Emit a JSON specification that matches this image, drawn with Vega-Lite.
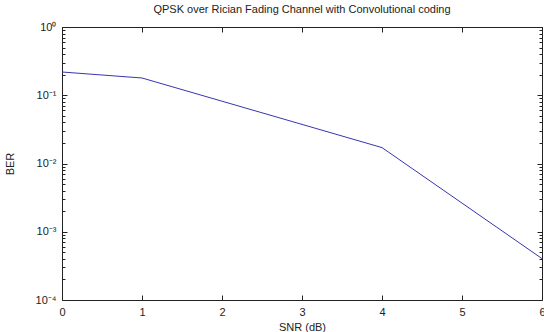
{
  "$schema": "https://vega.github.io/schema/vega-lite/v6.json",
  "autosize": "none",
  "width": 480,
  "height": 273,
  "padding": {"left": 62, "top": 27, "right": 2, "bottom": 32},
  "background": "white",
  "title": {
    "text": "QPSK over Rician Fading Channel with Convolutional coding",
    "font": "Liberation Sans",
    "fontSize": 11,
    "fontWeight": "normal",
    "color": "#222222",
    "anchor": "middle",
    "offset": 6
  },
  "config": {
    "view": {"stroke": null},
    "axis": {
      "domainColor": "#222222",
      "tickColor": "#222222",
      "labelColor": "#222222",
      "titleColor": "#222222",
      "labelFont": "Liberation Sans",
      "titleFont": "Liberation Sans",
      "labelFontSize": 11,
      "titleFontSize": 11,
      "titleFontWeight": "normal",
      "grid": false
    }
  },
  "data": {
    "values": [
      {"snr": 0, "ber": 0.219},
      {"snr": 1, "ber": 0.179},
      {"snr": 4, "ber": 0.0171},
      {"snr": 6, "ber": 0.000404}
    ]
  },
  "layer": [
    {
      "mark": {"type": "line", "color": "#3636b0", "strokeWidth": 1, "clip": true},
      "encoding": {
        "x": {
          "field": "snr", "type": "quantitative",
          "scale": {"domain": [0, 6], "nice": false, "zero": false},
          "axis": {
            "orient": "bottom", "title": "SNR (dB)", "values": [0, 1, 2, 3, 4, 5, 6],
            "tickSize": -5, "labelPadding": 11, "titlePadding": 4, "labelFlush": false
          }
        },
        "y": {
          "field": "ber", "type": "quantitative",
          "scale": {"type": "log", "domain": [0.0001, 1], "nice": false},
          "axis": {
            "orient": "left", "title": "BER", "titlePadding": 20,
            "values": [0.0001,0.0002,0.0003,0.0004,0.0005,0.0006,0.0007,0.0008,0.0009,0.001,0.002,0.003,0.004,0.005,0.006,0.007,0.008,0.009,0.01,0.02,0.03,0.04,0.05,0.06,0.07,0.08,0.09,0.1,0.2,0.3,0.4,0.5,0.6,0.7,0.8,0.9,1],
            "labelExpr": "datum.value == 1 ? '10⁰' : datum.value == 0.1 ? '10⁻¹' : datum.value == 0.01 ? '10⁻²' : datum.value == 0.001 ? '10⁻³' : datum.value == 0.0001 ? '10⁻⁴' : ''",
            "tickSize": {"condition": {"test": "indexof([1,0.1,0.01,0.001,0.0001], datum.value) >= 0", "value": -5}, "value": -3},
            "labelPadding": 11,
            "labelFlush": false
          }
        }
      }
    },
    {
      "mark": {"type": "line", "opacity": 0},
      "encoding": {
        "x": {
          "field": "snr", "type": "quantitative",
          "scale": {"domain": [0, 6], "nice": false, "zero": false},
          "axis": {"orient": "top", "title": null, "labels": false, "values": [0, 1, 2, 3, 4, 5, 6], "tickSize": -5}
        },
        "y": {
          "field": "ber", "type": "quantitative",
          "scale": {"type": "log", "domain": [0.0001, 1], "nice": false},
          "axis": {
            "orient": "right", "title": null, "labels": false,
            "values": [0.0001,0.0002,0.0003,0.0004,0.0005,0.0006,0.0007,0.0008,0.0009,0.001,0.002,0.003,0.004,0.005,0.006,0.007,0.008,0.009,0.01,0.02,0.03,0.04,0.05,0.06,0.07,0.08,0.09,0.1,0.2,0.3,0.4,0.5,0.6,0.7,0.8,0.9,1],
            "tickSize": {"condition": {"test": "indexof([1,0.1,0.01,0.001,0.0001], datum.value) >= 0", "value": -5}, "value": -3}
          }
        }
      }
    }
  ],
  "resolve": {"axis": {"x": "independent", "y": "independent"}}
}
